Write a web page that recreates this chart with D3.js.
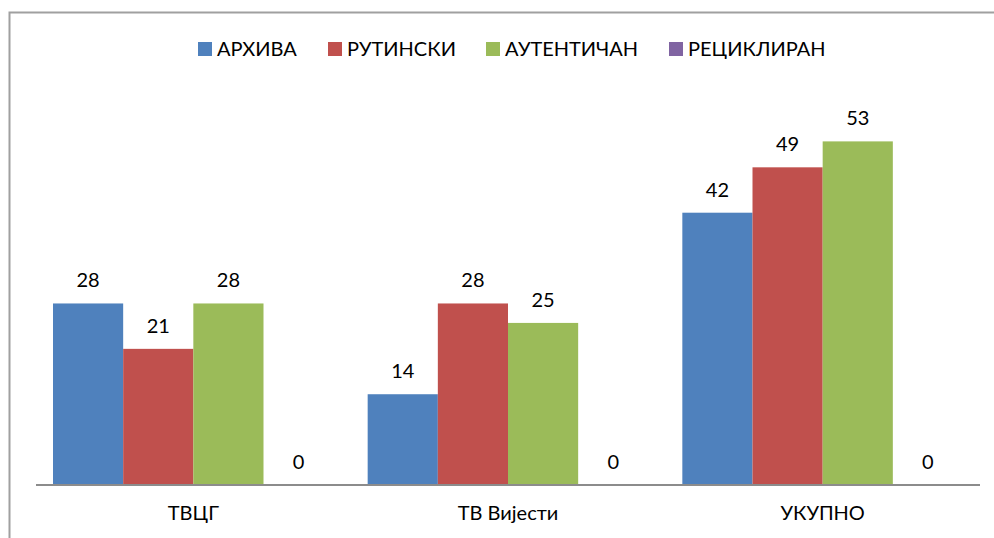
<!DOCTYPE html>
<html><head><meta charset="utf-8">
<script src="https://cdn.jsdelivr.net/npm/d3@7"></script>
<style>html,body{margin:0;padding:0;background:#fff;overflow:hidden}</style>
</head><body><svg id="c" width="994" height="538"></svg>
<script>
const categories = ["ТВЦГ", "ТВ Вијести", "УКУПНО"];
const seriesNames = ["АРХИВА", "РУТИНСКИ", "АУТЕНТИЧАН", "РЕЦИКЛИРАН"];
const arhiva = [28, 14, 42];
const rutinski = [21, 28, 49];
const autentican = [28, 25, 53];
const recikliran = [0, 0, 0];
const colors = ["#4F81BD", "#C0504D", "#9BBB59", "#8064A2"];
const seriesValues = [arhiva, rutinski, autentican, recikliran];

const font = "Lato, 'Open Sans', sans-serif";
const svg = d3.select("#c");
svg.append("rect").attr("x", 9.5).attr("y", 12.5).attr("width", 1000).attr("height", 600)
  .attr("fill", "none").attr("stroke", "#A0A0A0").attr("stroke-width", 2);

const left = 36, right = 980, base = 485;
const x0 = d3.scaleBand().domain(categories).range([left, right]).padding(0);
const x1 = d3.scaleBand().domain(seriesNames).range([17, x0.bandwidth() - 17]).padding(0);
const y = d3.scaleLinear().domain([0, 60]).range([base, 96]);

const groups = svg.append("g").selectAll("g").data(categories).join("g")
  .attr("transform", d => `translate(${x0(d)},0)`);
groups.each(function(cat, ci) {
  const g = d3.select(this);
  seriesNames.forEach((s, si) => {
    const v = seriesValues[si][ci];
    g.append("rect").attr("x", x1(s)).attr("width", x1.bandwidth())
      .attr("y", y(v)).attr("height", base - y(v)).attr("fill", colors[si]);
    g.append("text").attr("x", x1(s) + x1.bandwidth() / 2).attr("y", y(v) - 16)
      .attr("text-anchor", "middle").attr("font-family", font).attr("font-size", 20)
      .attr("fill", "#000").text(v);
  });
});

const xAxis = d3.axisBottom(x0).tickSize(0).tickPadding(21);
const ax = svg.append("g").attr("transform", `translate(0,${base})`).call(xAxis);
ax.select(".domain").attr("stroke", "#8C8C8C").attr("stroke-width", 2).attr("d", `M${left},0H${right}`);
ax.selectAll("text").attr("font-family", font).attr("font-size", 20).attr("fill", "#000").attr("dy", "0.71em");

// legend
const legendX = [198, 328, 486, 669];
const lg = svg.append("g").selectAll("g").data(seriesNames).join("g")
  .attr("transform", (d, i) => `translate(${legendX[i]},42)`);
lg.append("rect").attr("width", 14).attr("height", 14).attr("fill", (d, i) => colors[i]);
lg.append("text").attr("x", 19).attr("y", 14).attr("font-family", font).attr("font-size", 20)
  .attr("fill", "#000").text(d => d);
</script></body></html>
